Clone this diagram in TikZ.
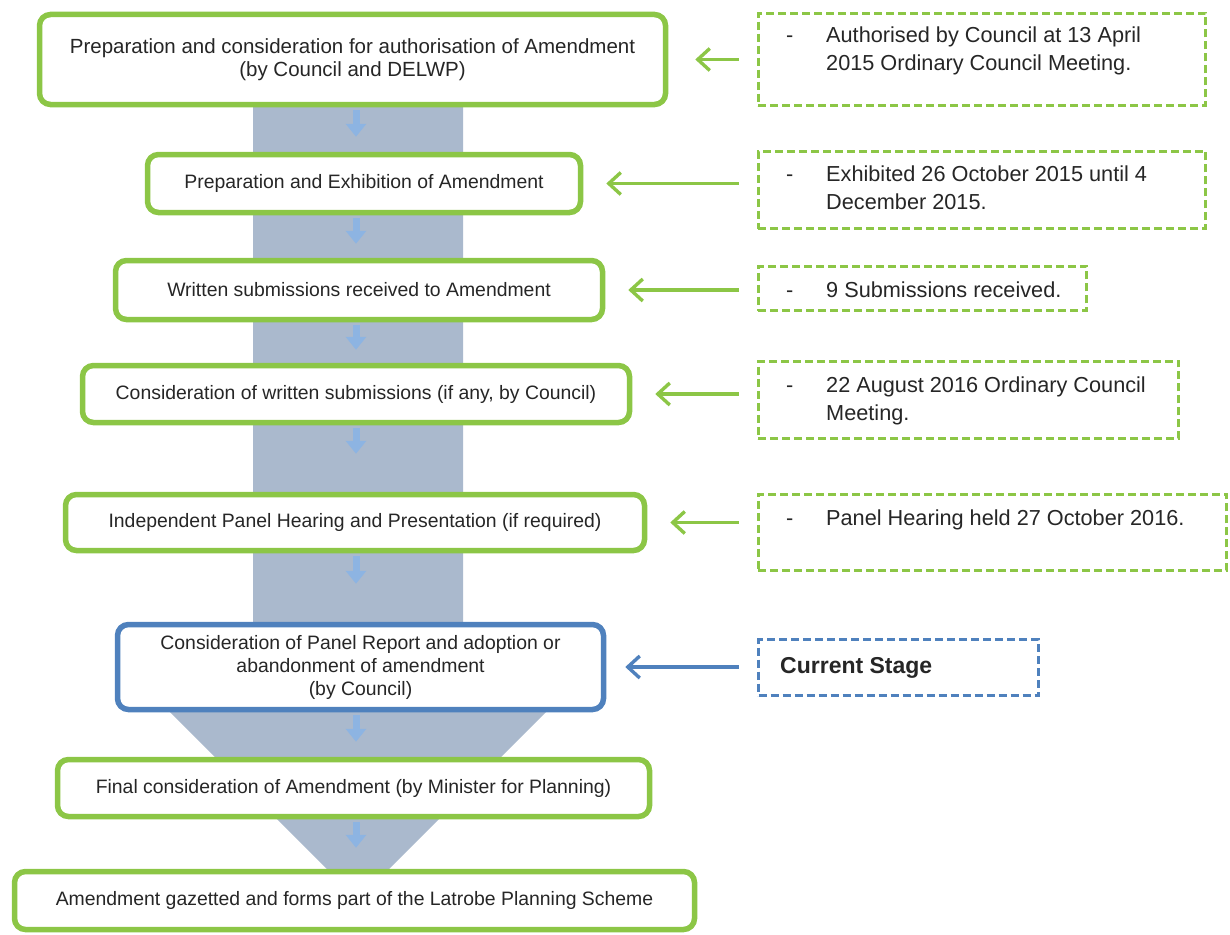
\documentclass[tikz,border=0pt]{standalone}
\usepackage{fontspec}
\setmainfont{Liberation Sans}
\usetikzlibrary{arrows.meta}
\definecolor{stagegreen}{RGB}{140,198,70}
\definecolor{stageblue}{RGB}{79,129,189}
\definecolor{flowblue}{RGB}{141,180,226}
\definecolor{shaftgray}{RGB}{170,185,205}
\definecolor{textgray}{RGB}{38,38,38}
\begin{document}
\begin{tikzpicture}[x=1pt,y=-1pt,
  sz/.style 2 args={minimum width=#1pt, minimum height=#2pt},
  stage/.style={draw=stagegreen, line width=5.5pt, rounded corners=11pt, fill=white,
    text=textgray, align=center, inner sep=0pt, font=\fontsize{19.4}{23}\selectfont},
  current/.style={stage, draw=stageblue},
  note/.style={draw=stagegreen, line width=2.6pt, dash pattern=on 8pt off 4pt,
    fill=white, inner sep=0pt},
  notetext/.style={anchor=north west, inner sep=0pt, text=textgray,
    font=\fontsize{21.7}{28}\selectfont},
  pointer/.style={draw=stagegreen, line width=3.4pt,
    -{Straight Barb[length=12pt,width=22pt,line width=3.4pt]}, shorten >=23pt, shorten <=18pt},
  flow/.style={draw=flowblue, line width=7pt, -{Triangle[length=13pt,width=20pt]}}
]
\useasboundingbox (0,0) rectangle (1230,934);

% broad background arrow running down the process
\fill[shaftgray] (253,100) -- (463,100) -- (463,665) -- (593,665) -- (358,900)
  -- (123,665) -- (253,665) -- cycle;

% process stages
\node[stage, font=\fontsize{20.5}{23}\selectfont, sz={626}{90}] (b1) at (352.5,59.5)
  {Preparation and consideration for authorisation of Amendment\\(by Council and DELWP)};
\node[stage, sz={433}{58}] (b2) at (364,183.5) {Preparation and Exhibition of Amendment};
\node[stage, sz={487}{59}] (b3) at (359,290) {Written submissions received to Amendment};
\node[stage, sz={547}{57}] (b4) at (356,394) {Consideration of written submissions (if any, by Council)};
\node[stage, sz={579}{56}] (b5) at (355,522.5) {Independent Panel Hearing and Presentation (if required)};
\node[current, sz={486}{85}] (b6) at (360.5,667)
  {Consideration of Panel Report and adoption or\\abandonment of amendment\\(by Council)};
\node[stage, sz={592}{57}] (b7) at (353.5,788) {Final consideration of Amendment (by Minister for Planning)};
\node[stage, sz={680}{58}] (b8) at (354.5,900.5) {Amendment gazetted and forms part of the Latrobe Planning Scheme};

% vertical axis of the small flow arrows
\coordinate (ax) at (356,0);

% status notes
\node[note, sz={447.5}{92.5}] (n1) at (982,59.5) {};
\node[note, sz={447.5}{77.5}] (n2) at (982,190) {};
\node[note, sz={328.5}{44.5}] (n3) at (922.5,288.5) {};
\node[note, sz={420.5}{77.5}] (n4) at (968.5,400) {};
\node[note, sz={468.5}{76.5}] (n5) at (992.5,532.5) {};
\node[note, draw=stageblue, line width=3.2pt, sz={280}{56}] (n6) at (898.5,667.5) {};

\node[notetext] (t1) at (786,23.2) {\begin{tabular}{@{}p{40pt}@{}l@{}}-&Authorised by Council at 13 April\\&2015 Ordinary Council Meeting.\end{tabular}};
\node[notetext] (t2) at (786,161.2) {\begin{tabular}{@{}p{40pt}@{}l@{}}-&Exhibited 26 October 2015 until 4\\&December 2015.\end{tabular}};
\node[notetext] (t3) at (786,277.2) {\begin{tabular}{@{}p{40pt}@{}l@{}}-&9 Submissions received.\end{tabular}};
\node[notetext] (t4) at (786,372.2) {\begin{tabular}{@{}p{40pt}@{}l@{}}-&22 August 2016 Ordinary Council\\&Meeting.\end{tabular}};
\node[notetext] (t5) at (786,505.2) {\begin{tabular}{@{}p{40pt}@{}l@{}}-&Panel Hearing held 27 October 2016.\end{tabular}};
\node[anchor=west, inner sep=0pt, text=textgray, font=\bfseries\fontsize{23}{28}\selectfont] (cs) at (780,668) {Current Stage};

% pointers from notes to stages
\draw[pointer, shorten >=27pt] (n1.west |- b1.east) -- (b1.east);
\draw[pointer] (n2.west |- b2.east) -- (b2.east);
\draw[pointer] (n3.west |- b3.east) -- (b3.east);
\draw[pointer] (n4.west |- b4.east) -- (b4.east);
\draw[pointer] (n5.west |- b5.east) -- (b5.east);
\draw[pointer, draw=stageblue, shorten >=19pt] (n6.west |- b6.east) -- (b6.east);

% small flow arrows between stages, starting at the box edges
\draw[flow, shorten <=3pt, shorten >=15pt] (b1.south -| ax) -- (b2.north -| ax);
\draw[flow, shorten <=3pt, shorten >=14pt] (b2.south -| ax) -- (b3.north -| ax);
\draw[flow, shorten <=3pt, shorten >=13pt] (b3.south -| ax) -- (b4.north -| ax);
\draw[flow, shorten <=3pt, shorten >=38pt] (b4.south -| ax) -- (b5.north -| ax);
\draw[flow, shorten <=3pt, shorten >=38pt] (b5.south -| ax) -- (b6.north -| ax);
\draw[flow, shorten <=3pt, shorten >=15pt] (b6.south -| ax) -- (b7.north -| ax);
\draw[flow, shorten <=3pt, shorten >=21pt] (b7.south -| ax) -- (b8.north -| ax);
\end{tikzpicture}
\end{document}
